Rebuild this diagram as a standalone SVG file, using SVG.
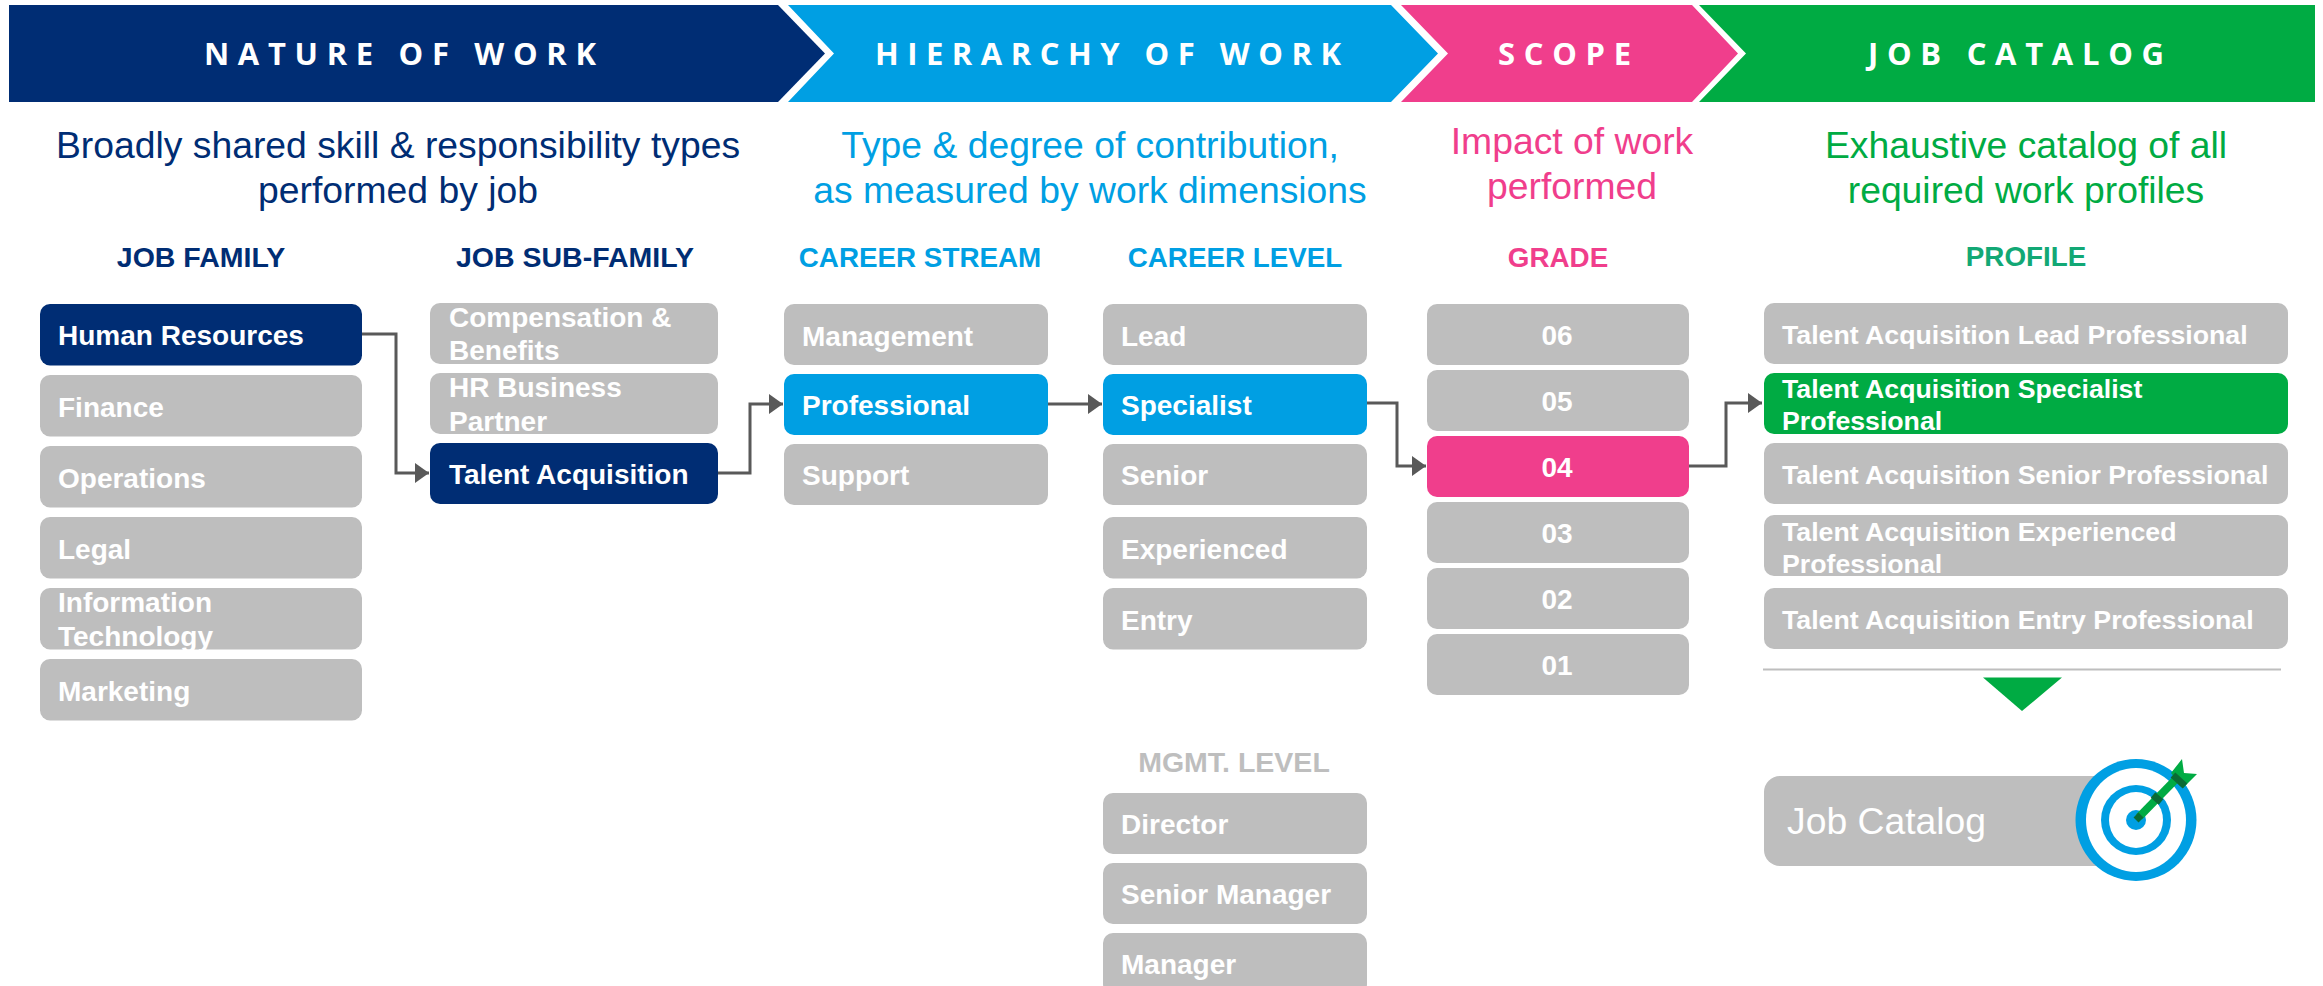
<svg xmlns="http://www.w3.org/2000/svg" width="2323" height="986" viewBox="0 0 2323 986">
<style>
.g{fill:#BEBEBE}.n{fill:#002D74}.b{fill:#009FE3}.p{fill:#F03E8C}.e{fill:#00AB43}
text{font-family:"Liberation Sans",Arial,sans-serif}
.t{font-size:28px;font-weight:700;fill:#fff}
.t7{font-size:26.700px}
.c{text-anchor:middle}
.h{font-size:27.800px;font-weight:700;text-anchor:middle}
.h5{font-size:28.500px}
.s{font-size:37.300px;text-anchor:middle}
.k{font-family:"Open Sans","Liberation Sans",sans-serif;font-size:31px;font-weight:700;fill:#fff}
.cn{fill:none;stroke:#595959;stroke-width:3}
</style>
<defs>
<marker id="ah" markerUnits="userSpaceOnUse" markerWidth="14" markerHeight="20" refX="14" refY="10" orient="auto"><path d="M0 0L14 10L0 20Z" fill="#595959"/></marker>
</defs>
<g id="banner-nature"><path class="n" d="M9 5H778L825 53.500L778 102H9Z"/><text class="k" x="204" y="65" textLength="392" lengthAdjust="spacing">NATURE OF WORK</text></g>
<g id="banner-hierarchy"><path class="b" d="M788 5H1391L1438 53.500L1391 102H788L834 53.500Z"/><text class="k" x="875" y="65" textLength="466" lengthAdjust="spacing">HIERARCHY OF WORK</text></g>
<g id="banner-scope"><path class="p" d="M1401 5H1692L1738 53.500L1692 102H1401L1448 53.500Z"/><text class="k" x="1498" y="65" textLength="133" lengthAdjust="spacing">SCOPE</text></g>
<g id="banner-catalog"><path class="e" d="M1699 5H2315V102H1699L1746 53.500Z"/><text class="k" x="1868" y="65" textLength="296" lengthAdjust="spacing">JOB CATALOG</text></g>

<g id="subtitles">
<text class="s" x="398" y="158" fill="#002D74">Broadly shared skill &amp; responsibility types</text>
<text class="s" x="398" y="203" fill="#002D74">performed by job</text>
<text class="s" x="1090" y="158" fill="#009FE3">Type &amp; degree of contribution,</text>
<text class="s" x="1090" y="203" fill="#009FE3">as measured by work dimensions</text>
<text class="s" x="1572" y="154" fill="#F03E8C">Impact of work</text>
<text class="s" x="1572" y="199" fill="#F03E8C">performed</text>
<text class="s" x="2026" y="158" fill="#00AB43">Exhaustive catalog of all</text>
<text class="s" x="2026" y="203" fill="#00AB43">required work profiles</text>
</g>
<g id="column-headers">
<text class="h h5" x="201" y="267" fill="#002D74">JOB FAMILY</text>
<text class="h h5" x="575" y="267" fill="#002D74">JOB SUB-FAMILY</text>
<text class="h" x="920" y="267" fill="#009FE3">CAREER STREAM</text>
<text class="h" x="1235" y="267" fill="#009FE3">CAREER LEVEL</text>
<text class="h" x="1558" y="267" fill="#F03E8C">GRADE</text>
<text class="h" x="2026" y="266" fill="#12A875">PROFILE</text>
<text class="h h5" x="1234" y="772" fill="#BEBEBE">MGMT. LEVEL</text>
</g>

<g id="connectors">
<path class="cn" marker-end="url(#ah)" d="M362 334H396V473H429"/>
<path class="cn" marker-end="url(#ah)" d="M718 473H750V404H783"/>
<path class="cn" marker-end="url(#ah)" d="M1047 404H1102"/>
<path class="cn" marker-end="url(#ah)" d="M1366 403H1397V466H1426"/>
<path class="cn" marker-end="url(#ah)" d="M1688 466H1726V403H1762"/>
</g>

<g id="family-hr"><rect class="n" x="40" y="304" width="322" height="61.500" rx="10"/><text class="t" x="58" y="345">Human Resources</text></g>
<g id="family-finance"><rect class="g" x="40" y="375" width="322" height="61.500" rx="10"/><text class="t" x="58" y="417">Finance</text></g>
<g id="family-operations"><rect class="g" x="40" y="446" width="322" height="61.500" rx="10"/><text class="t" x="58" y="488">Operations</text></g>
<g id="family-legal"><rect class="g" x="40" y="517" width="322" height="61.500" rx="10"/><text class="t" x="58" y="559">Legal</text></g>
<g id="family-it"><rect class="g" x="40" y="588" width="322" height="61.500" rx="10"/><text class="t" x="58" y="612">Information</text><text class="t" x="58" y="646">Technology</text></g>
<g id="family-marketing"><rect class="g" x="40" y="659" width="322" height="61.500" rx="10"/><text class="t" x="58" y="701">Marketing</text></g>

<g id="sub-comp"><rect class="g" x="430" y="303" width="288" height="61" rx="10"/><text class="t" x="449" y="327">Compensation &amp;</text><text class="t" x="449" y="360">Benefits</text></g>
<g id="sub-hrbp"><rect class="g" x="430" y="373" width="288" height="61" rx="10"/><text class="t" x="449" y="397">HR Business</text><text class="t" x="449" y="431">Partner</text></g>
<g id="sub-ta"><rect class="n" x="430" y="443" width="288" height="61" rx="10"/><text class="t" x="449" y="484">Talent Acquisition</text></g>

<g id="stream-mgmt"><rect class="g" x="784" y="304" width="264" height="61" rx="10"/><text class="t" x="802" y="346">Management</text></g>
<g id="stream-pro"><rect class="b" x="784" y="374" width="264" height="61" rx="10"/><text class="t" x="802" y="415">Professional</text></g>
<g id="stream-support"><rect class="g" x="784" y="444" width="264" height="61" rx="10"/><text class="t" x="802" y="485">Support</text></g>

<g id="level-lead"><rect class="g" x="1103" y="304" width="264" height="61" rx="10"/><text class="t" x="1121" y="346">Lead</text></g>
<g id="level-specialist"><rect class="b" x="1103" y="374" width="264" height="61" rx="10"/><text class="t" x="1121" y="415">Specialist</text></g>
<g id="level-senior"><rect class="g" x="1103" y="444" width="264" height="61" rx="10"/><text class="t" x="1121" y="485">Senior</text></g>
<g id="level-experienced"><rect class="g" x="1103" y="517" width="264" height="61.500" rx="10"/><text class="t" x="1121" y="559">Experienced</text></g>
<g id="level-entry"><rect class="g" x="1103" y="588" width="264" height="61.500" rx="10"/><text class="t" x="1121" y="630">Entry</text></g>

<g id="mgmt-director"><rect class="g" x="1103" y="793" width="264" height="61" rx="10"/><text class="t" x="1121" y="834">Director</text></g>
<g id="mgmt-senior"><rect class="g" x="1103" y="863" width="264" height="61" rx="10"/><text class="t" x="1121" y="904">Senior Manager</text></g>
<g id="mgmt-manager"><rect class="g" x="1103" y="933" width="264" height="61" rx="10"/><text class="t" x="1121" y="974">Manager</text></g>

<g id="grade-06"><rect class="g" x="1427" y="304" width="262" height="61" rx="10"/><text class="t c" x="1557" y="345">06</text></g>
<g id="grade-05"><rect class="g" x="1427" y="370" width="262" height="61" rx="10"/><text class="t c" x="1557" y="411">05</text></g>
<g id="grade-04"><rect class="p" x="1427" y="436" width="262" height="61" rx="10"/><text class="t c" x="1557" y="477">04</text></g>
<g id="grade-03"><rect class="g" x="1427" y="502" width="262" height="61" rx="10"/><text class="t c" x="1557" y="543">03</text></g>
<g id="grade-02"><rect class="g" x="1427" y="568" width="262" height="61" rx="10"/><text class="t c" x="1557" y="609">02</text></g>
<g id="grade-01"><rect class="g" x="1427" y="634" width="262" height="61" rx="10"/><text class="t c" x="1557" y="675">01</text></g>

<g id="profile-lead"><rect class="g" x="1764" y="303" width="524" height="61" rx="10"/><text class="t t7" x="1782" y="344">Talent Acquisition Lead Professional</text></g>
<g id="profile-specialist"><rect class="e" x="1764" y="373" width="524" height="61" rx="10"/><text class="t t7" x="1782" y="398">Talent Acquisition Specialist</text><text class="t t7" x="1782" y="430">Professional</text></g>
<g id="profile-senior"><rect class="g" x="1764" y="443" width="524" height="61" rx="10"/><text class="t t7" x="1782" y="484">Talent Acquisition Senior Professional</text></g>
<g id="profile-experienced"><rect class="g" x="1764" y="515" width="524" height="61" rx="10"/><text class="t t7" x="1782" y="541">Talent Acquisition Experienced</text><text class="t t7" x="1782" y="573">Professional</text></g>
<g id="profile-entry"><rect class="g" x="1764" y="588" width="524" height="61" rx="10"/><text class="t t7" x="1782" y="629">Talent Acquisition Entry Professional</text></g>

<path d="M1763 669.500H2281" fill="none" stroke="#BEBEBE" stroke-width="2"/>
<path class="e" d="M1983 677.500H2062L2022 711Z"/>

<g id="job-catalog">
<rect class="g" x="1764" y="776" width="420" height="90" rx="16"/>
<text x="1787" y="834" font-size="37.300" fill="#fff">Job Catalog</text>
<ellipse cx="2136" cy="820" rx="60.500" ry="61" fill="#009FE3"/>
<ellipse cx="2136" cy="820" rx="50" ry="52" fill="#fff"/>
<ellipse cx="2136" cy="820" rx="35" ry="35" fill="#009FE3"/>
<ellipse cx="2136" cy="820" rx="27" ry="28" fill="#fff"/>
<circle cx="2136" cy="820" r="10" fill="#009FE3"/>
<path d="M2139 817L2180 775" stroke="#00AB43" stroke-width="8" fill="none"/>
<path class="e" d="M2171 773L2182 759L2184 773L2197 774L2183 788Z"/>
<path d="M2136 815L2141 820M2153 795L2161 802M2173 775L2185 786" stroke="#0A6B34" stroke-width="7" fill="none"/>
</g>
</svg>
